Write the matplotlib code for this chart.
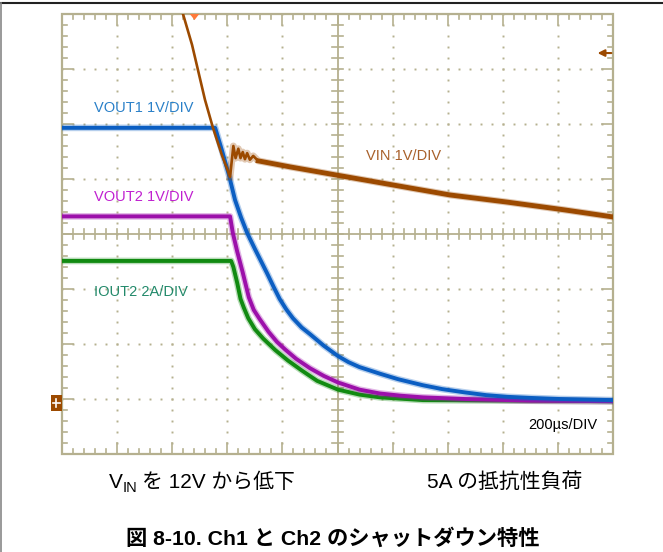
import matplotlib
matplotlib.use("Agg")
import matplotlib.pyplot as plt
from matplotlib.patches import Rectangle, Polygon

# ── datos (x en DIV de 200µs, y en DIV) ──
vout1_x = [0.0, 2.78, 2.90, 3.03, 3.14, 3.25, 3.36, 3.50, 3.62, 3.72, 3.84, 3.95, 4.07,
           4.19, 4.35, 4.50, 4.75, 5.01, 5.20, 5.40, 5.77, 6.10, 6.55, 6.90, 7.31,
           7.70, 8.08, 8.50, 9.04, 10.0]
vout1_y = [5.93, 5.93, 5.53, 5.07, 4.62, 4.30, 4.02, 3.73, 3.49, 3.29, 3.04, 2.82, 2.63,
           2.47, 2.30, 2.18, 1.97, 1.78, 1.67, 1.58, 1.46, 1.36, 1.25, 1.18, 1.12,
           1.07, 1.04, 1.02, 1.00, 0.98]

vout2_x = [0.0, 3.05, 3.10, 3.18, 3.28, 3.39, 3.48, 3.59, 3.75, 3.90, 4.05, 4.25, 4.50,
           4.75, 5.01, 5.40, 5.77, 6.15, 6.55, 7.31, 8.50, 10.0]
vout2_y = [4.32, 4.32, 4.02, 3.68, 3.30, 2.85, 2.62, 2.45, 2.22, 2.04, 1.90, 1.73, 1.56,
           1.42, 1.30, 1.17, 1.10, 1.06, 1.03, 1.00, 0.97, 0.96]

iout2_x = [0.0, 3.07, 3.11, 3.18, 3.24, 3.30, 3.38, 3.50, 3.65, 3.87, 4.10, 4.35, 4.63,
           5.01, 5.40, 5.77, 6.55, 10.0]
iout2_y = [3.51, 3.51, 3.40, 3.11, 2.82, 2.66, 2.47, 2.27, 2.10, 1.89, 1.70, 1.52, 1.33,
           1.17, 1.08, 1.03, 0.98, 0.96]

vin_x = [2.196, 2.36, 2.595, 2.74, 2.90, 3.05, 3.11, 3.15, 3.20, 3.24, 3.28, 3.32,
         3.36, 3.41, 3.47, 3.56, 4.14, 4.99, 7.04, 8.08, 9.11, 10.0]
vin_y = [8.0, 7.44, 6.44, 5.93, 5.44, 5.04, 5.60, 5.38, 5.55, 5.38, 5.49, 5.36,
         5.47, 5.35, 5.42, 5.33, 5.22, 5.07, 4.71, 4.58, 4.44, 4.31]

labels = ["VOUT1 1V/DIV", "VOUT2 1V/DIV", "IOUT2 2A/DIV", "VIN 1V/DIV"]
time_label = "200µs/DIV"
cond_left = "を 12V から低下"
cond_right = "5A の抵抗性負荷"
caption = "図 8-10. Ch1 と Ch2 のシャットダウン特性"

W, H = 663, 552
GRID = "#b5b08f"
C_BLUE, C_MAG, C_GRN, C_BRN = "#0b5ec2", "#9c10aa", "#118a11", "#9c4a00"
FONT = ["Liberation Sans", "Noto Sans CJK JP"]

fig = plt.figure(figsize=(W / 100, H / 100), dpi=100)
ax = fig.add_axes([62 / W, 1 - 454 / H, 551 / W, 440 / H])
ax.set_xlim(0, 10)
ax.set_ylim(0, 8)
ax.axis("off")

# ── retícula del osciloscopio ──
minor = [i * 0.2 for i in range(51)]
minor_y = [i * 0.2 for i in range(41)]
for gx in range(1, 10):
    if gx == 5:
        continue
    ax.plot([gx] * len(minor_y), minor_y, ls="none", marker="s", ms=1.4,
            mec="none", mfc=GRID, zorder=1)
for gy in range(1, 8):
    if gy == 4:
        continue
    ax.plot(minor, [gy] * len(minor), ls="none", marker="s", ms=1.4,
            mec="none", mfc=GRID, zorder=1)

# ejes centrales con marcas
ax.plot([0, 10], [4, 4], color=GRID, lw=1.3, zorder=1)
ax.plot([5, 5], [0, 8], color=GRID, lw=1.3, zorder=1)
for m in minor:
    ax.plot([m, m], [3.91, 4.09], color=GRID, lw=1.2, zorder=1)
for m in minor_y:
    ax.plot([4.9, 5.1], [m, m], color=GRID, lw=1.2, zorder=1)

# borde y marcas hacia adentro
ax.add_patch(Rectangle((0, 0), 10, 8, fill=False, ec=GRID, lw=1.6, zorder=1, clip_on=False))
for m in minor:
    L = 0.2 if abs(m - round(m)) < 1e-6 else 0.09
    ax.plot([m, m], [0, L], color=GRID, lw=1.2, zorder=1)
    ax.plot([m, m], [8, 8 - L], color=GRID, lw=1.2, zorder=1)
for m in minor_y:
    L = 0.2 if abs(m - round(m)) < 1e-6 else 0.09
    ax.plot([0, L], [m, m], color=GRID, lw=1.2, zorder=1)
    ax.plot([10, 10 - L], [m, m], color=GRID, lw=1.2, zorder=1)

# ── trazas ──
for xs, ys, c, z in [(iout2_x, iout2_y, C_GRN, 3), (vout2_x, vout2_y, C_MAG, 4),
                     (vout1_x, vout1_y, C_BLUE, 5)]:
    ax.plot(xs, ys, color=c, lw=4.8, alpha=0.3, solid_joinstyle="round", zorder=z)
    ax.plot(xs, ys, color=c, lw=2.8, solid_joinstyle="round", zorder=z)
# VIN: tramo de caída fino, cola ruidosa más gruesa
ax.plot(vin_x, vin_y, color=C_BRN, lw=1.9, solid_joinstyle="round", zorder=6)
ax.plot(vin_x[5:], vin_y[5:], color=C_BRN, lw=5.0, alpha=0.3, solid_joinstyle="round", zorder=6)
ax.plot(vin_x[15:], vin_y[15:], color=C_BRN, lw=3.5, solid_joinstyle="round", zorder=6)

# marcadores: disparo, referencia de tierra, flecha de nivel
ax.add_patch(Polygon([[2.32, 8.0], [2.49, 8.0], [2.405, 7.89]], closed=True,
                     fc="#ff7a3a", ec="none", zorder=7, clip_on=False))
ax.add_patch(Rectangle((-0.2, 0.78), 0.2, 0.29, fc=C_BRN, ec="none", zorder=7, clip_on=False))
ax.plot([-0.17, -0.04], [0.93, 0.93], color="white", lw=1.2, zorder=8, clip_on=False)
ax.plot([-0.1, -0.1], [0.86, 1.0], color="white", lw=1.2, zorder=8, clip_on=False)
ax.annotate("", xy=(9.72, 7.29), xytext=(9.97, 7.29),
            arrowprops=dict(arrowstyle="-|>", color=C_BRN, lw=1.5, mutation_scale=10,
                            shrinkA=0, shrinkB=0),
            zorder=7, annotation_clip=False)

# ── textos dentro de la retícula ──
ax.text(0.58, 6.29, labels[0], color="#2a80c8", fontsize=10.5, va="center", family=FONT)
ax.text(0.58, 4.67, labels[1], color="#c020d0", fontsize=10.5, va="center", family=FONT)
ax.text(0.58, 2.95, labels[2], color="#22896a", fontsize=10.5, va="center", family=FONT)
ax.text(5.52, 5.42, labels[3], color="#a8602a", fontsize=10.5, va="center", family=FONT)
ax.text(8.46, 0.53, time_label, color="black", fontsize=10.5, va="center", family=FONT)

# ── condiciones y título ──
r = fig.canvas.get_renderer()
FS = 15
t = fig.text(109 / W, 1 - 482 / H, "V", fontsize=FS, va="center", family=FONT)
bb = t.get_window_extent(r)
t = fig.text(bb.x1 / W, 1 - 488 / H, "IN", fontsize=FS * 0.7, va="center", family=FONT)
bb = t.get_window_extent(r)
fig.text(bb.x1 / W + 0.006, 1 - 482 / H, cond_left, fontsize=FS, va="center", family=FONT)
fig.text(427 / W, 1 - 482 / H, cond_right, fontsize=FS, va="center", family=FONT)
fig.text(333 / W, 1 - 538 / H, caption, fontsize=15.3, fontweight="bold", ha="center",
         va="center", family=["Liberation Sans Narrow", "Liberation Sans", "Noto Sans CJK JP"])

# marco exterior
fig.add_artist(plt.Line2D([0, 1], [1 - 3 / H, 1 - 3 / H], color="#222222", lw=1.5))
fig.add_artist(plt.Line2D([1 / W, 1 / W], [0, 1 - 3 / H], color="#888888", lw=1.2))

fig.savefig("out.png", dpi=100)
